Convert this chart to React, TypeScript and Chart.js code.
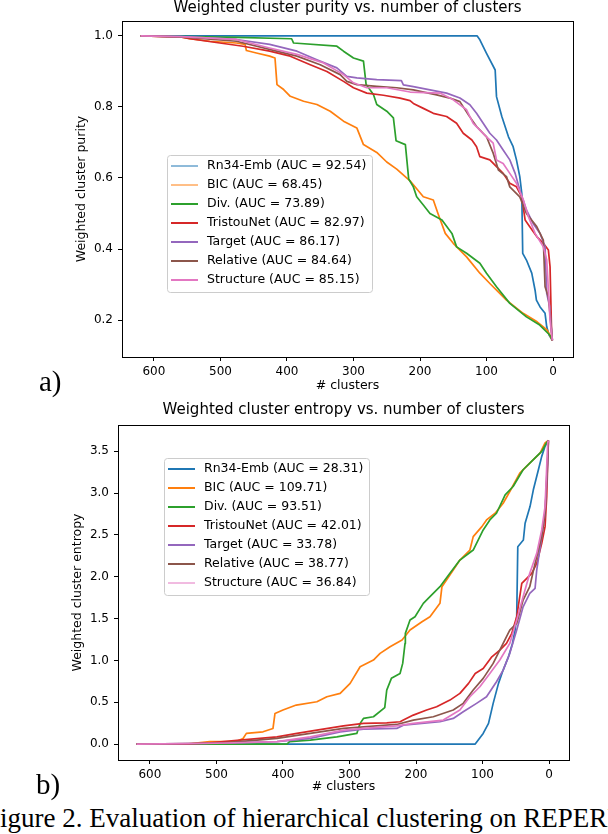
import React, { useEffect, useRef } from "react";
import { Chart, registerables } from "chart.js";

Chart.register(...registerables);

type Pt = [number, number];

// ---------- shared ----------
const seriesNames = ["Rn34-Emb", "BIC", "Div.", "TristouNet", "Target", "Relative", "Structure"];
const seriesColors = ["#1f77b4", "#ff7f0e", "#2ca02c", "#d62728", "#9467bd", "#8c564b", "#e377c2"];
const clusterTicks = [600, 500, 400, 300, 200, 100, 0];

// ---------- purity panel ----------
const purityAUC = ["92.54", "68.45", "73.89", "82.97", "86.17", "84.64", "85.15"];
const purityTicks = [0.2, 0.4, 0.6, 0.8, 1.0];

const purityRn34: Pt[] = [[620, 1], [114, 1], [110, 0.989], [100, 0.951], [87, 0.904], [85, 0.829], [77, 0.773], [67, 0.716], [60, 0.688], [55, 0.651], [50, 0.604], [47, 0.557], [45.6, 0.388], [40, 0.369], [32, 0.332], [27, 0.284], [25, 0.256], [19.5, 0.237], [12, 0.219], [9.5, 0.181], [6, 0.158], [1, 0.143]];
const purityBIC: Pt[] = [[620, 1], [560, 0.997], [546, 0.992], [516, 0.985], [476, 0.98], [463, 0.976], [461, 0.959], [446, 0.952], [426, 0.943], [418, 0.938], [415, 0.863], [405, 0.849], [395, 0.83], [375, 0.816], [355, 0.807], [335, 0.788], [315, 0.76], [295, 0.741], [285, 0.694], [265, 0.672], [250, 0.645], [235, 0.625], [215, 0.592], [195, 0.547], [180, 0.538], [173, 0.5], [162, 0.444], [150, 0.416], [130, 0.378], [110, 0.332], [95, 0.303], [70, 0.256], [45, 0.219], [24, 0.195], [9, 0.172], [1, 0.143]];
const purityDiv: Pt[] = [[620, 1], [476, 0.996], [393, 0.992], [390, 0.98], [325, 0.971], [315, 0.957], [300, 0.938], [285, 0.929], [281, 0.863], [270, 0.835], [265, 0.807], [250, 0.788], [240, 0.769], [236, 0.705], [222, 0.694], [217, 0.597], [210, 0.575], [205, 0.547], [195, 0.524], [185, 0.5], [167, 0.482], [152, 0.444], [145, 0.406], [130, 0.388], [110, 0.36], [100, 0.332], [85, 0.294], [65, 0.247], [40, 0.209], [20, 0.186], [5, 0.158], [1, 0.143]];
const purityTristou: Pt[] = [[620, 1], [560, 0.997], [546, 0.992], [501, 0.98], [466, 0.971], [426, 0.957], [395, 0.943], [365, 0.919], [340, 0.9], [315, 0.872], [300, 0.854], [280, 0.839], [255, 0.833], [230, 0.825], [215, 0.818], [210, 0.81], [195, 0.796], [180, 0.782], [160, 0.773], [145, 0.754], [135, 0.726], [122, 0.707], [115, 0.688], [110, 0.66], [95, 0.651], [85, 0.632], [75, 0.613], [65, 0.585], [55, 0.575], [47, 0.547], [42, 0.482], [35, 0.463], [24.5, 0.435], [14.6, 0.416], [7, 0.397], [4.5, 0.35], [2, 0.15], [1, 0.143]];
const purityTarget: Pt[] = [[620, 1], [560, 0.998], [476, 0.99], [426, 0.976], [385, 0.957], [355, 0.933], [325, 0.91], [310, 0.886], [295, 0.882], [265, 0.877], [228, 0.874], [225, 0.862], [210, 0.857], [185, 0.848], [160, 0.839], [140, 0.825], [125, 0.806], [115, 0.782], [105, 0.754], [95, 0.726], [85, 0.707], [75, 0.679], [65, 0.651], [57, 0.613], [50, 0.566], [40, 0.51], [30, 0.472], [19.5, 0.444], [12, 0.406], [9.5, 0.275], [5, 0.237], [1, 0.143]];
const purityRelative: Pt[] = [[620, 1], [560, 0.997], [476, 0.985], [426, 0.962], [385, 0.943], [350, 0.919], [320, 0.891], [310, 0.872], [295, 0.863], [265, 0.858], [235, 0.854], [210, 0.848], [175, 0.834], [155, 0.825], [140, 0.815], [127, 0.777], [115, 0.745], [100, 0.716], [90, 0.67], [82, 0.622], [70, 0.604], [65, 0.575], [50, 0.547], [40, 0.5], [24.5, 0.463], [14.6, 0.425], [12, 0.294], [7, 0.266], [1, 0.143]];
const purityStructure: Pt[] = [[620, 1], [560, 0.998], [476, 0.99], [426, 0.966], [385, 0.948], [345, 0.924], [315, 0.891], [300, 0.868], [280, 0.854], [250, 0.854], [215, 0.842], [170, 0.839], [150, 0.82], [130, 0.792], [120, 0.754], [110, 0.735], [100, 0.716], [90, 0.698], [85, 0.651], [75, 0.641], [65, 0.613], [55, 0.585], [44.6, 0.538], [37, 0.491], [27, 0.444], [14.6, 0.406], [9.5, 0.369], [4.5, 0.2], [1, 0.143]];

// ---------- entropy panel ----------
const entropyAUC = ["28.31", "109.71", "93.51", "42.01", "33.78", "38.77", "36.84"];
const entropyTicks = [0, 0.5, 1.0, 1.5, 2.0, 2.5, 3.0, 3.5];

const entropyRn34: Pt[] = [[620, 0], [111, 0], [99, 0.128], [91, 0.248], [84, 0.487], [76, 0.726], [69, 0.885], [61, 1.044], [55, 1.204], [51, 1.364], [48.6, 1.523], [47, 2.36], [38.6, 2.44], [36, 2.64], [28.6, 2.84], [23.6, 3.04], [16, 3.28], [11, 3.44], [6, 3.56], [1, 3.63]];
const entropyBIC: Pt[] = [[620, 0], [545, 0], [510, 0.03], [470, 0.03], [460, 0.068], [455, 0.128], [430, 0.147], [415, 0.187], [412, 0.367], [400, 0.407], [380, 0.467], [349, 0.506], [334, 0.566], [314, 0.606], [299, 0.726], [284, 0.925], [264, 1.005], [254, 1.085], [239, 1.164], [221, 1.244], [209, 1.364], [191, 1.463], [179, 1.523], [164, 1.683], [161, 1.882], [144, 2.081], [134, 2.2], [119, 2.32], [114, 2.48], [101, 2.6], [94, 2.68], [81, 2.76], [69, 2.88], [59, 3.02], [44, 3.24], [29, 3.36], [13.5, 3.48], [6, 3.6], [1, 3.63]];
const entropyDiv: Pt[] = [[620, 0], [394, 0], [390, 0.03], [359, 0.048], [319, 0.087], [289, 0.128], [284, 0.248], [279, 0.307], [264, 0.327], [247, 0.437], [244, 0.646], [237, 0.786], [224, 0.845], [220, 0.965], [216.5, 1.204], [216, 1.324], [209, 1.483], [201.5, 1.523], [189, 1.683], [179, 1.762], [164, 1.882], [149, 2.042], [134, 2.2], [114, 2.32], [99, 2.56], [89, 2.68], [79, 2.76], [66, 2.98], [54, 3.08], [39, 3.28], [23.6, 3.4], [11, 3.5], [4, 3.6], [1, 3.63]];
const entropyTristou: Pt[] = [[620, 0], [545, 0], [510, 0.016], [465, 0.048], [409, 0.087], [379, 0.128], [349, 0.167], [309, 0.219], [279, 0.248], [244, 0.255], [224, 0.267], [219, 0.287], [204, 0.347], [184, 0.407], [169, 0.447], [149, 0.526], [134, 0.606], [121, 0.726], [111, 0.845], [99, 0.905], [86, 1.044], [74, 1.124], [64, 1.204], [56, 1.324], [48.6, 1.523], [41, 1.922], [33.5, 1.982], [26, 2.042], [18.5, 2.16], [11, 2.4], [6, 2.6], [3.5, 2.96], [1, 3.63]];
const entropyTarget: Pt[] = [[620, 0], [500, 0.01], [409, 0.03], [359, 0.068], [314, 0.147], [279, 0.179], [229, 0.187], [219, 0.227], [164, 0.267], [144, 0.307], [129, 0.386], [109, 0.487], [94, 0.566], [79, 0.745], [69, 0.885], [59, 1.085], [48.6, 1.364], [39, 1.642], [29, 1.802], [21, 1.862], [18.5, 2.081], [11, 2.48], [6, 2.76], [2, 3.36], [1, 3.63]];
const entropyRelative: Pt[] = [[620, 0], [500, 0.01], [465, 0.03], [409, 0.068], [359, 0.128], [309, 0.187], [279, 0.207], [229, 0.235], [204, 0.287], [174, 0.327], [144, 0.407], [129, 0.487], [114, 0.646], [99, 0.786], [84, 0.965], [69, 1.204], [59, 1.364], [48.6, 1.444], [39, 1.722], [29, 1.882], [21, 2.16], [11, 2.48], [6, 2.76], [2, 3.44], [1, 3.63]];
const entropyStructure: Pt[] = [[620, 0], [500, 0.01], [409, 0.03], [359, 0.087], [309, 0.167], [279, 0.187], [229, 0.219], [204, 0.248], [159, 0.287], [134, 0.407], [119, 0.566], [104, 0.686], [89, 0.845], [74, 1.005], [59, 1.204], [48.6, 1.483], [39, 1.762], [29, 2.042], [18.5, 2.28], [11, 2.56], [6, 2.84], [2, 3.6], [1, 3.63]];

const puritySeries = [purityRn34, purityBIC, purityDiv, purityTristou, purityTarget, purityRelative, purityStructure];
const entropySeries = [entropyRn34, entropyBIC, entropyDiv, entropyTristou, entropyTarget, entropyRelative, entropyStructure];

const FONT = "'DejaVu Sans', sans-serif";

function framePlugin() {
  return {
    id: "frame",
    afterDatasetsDraw(chart: any) {
      const { ctx, chartArea: a } = chart;
      ctx.save();
      ctx.strokeStyle = "#000";
      ctx.lineWidth = 1;
      ctx.strokeRect(Math.round(a.left) + 0.5, Math.round(a.top) + 0.5, Math.round(a.right - a.left), Math.round(a.bottom - a.top));
      ctx.restore();
    },
  };
}

function titlePlugin(text: string, cy: number) {
  return {
    id: "panelTitle",
    afterDraw(chart: any) {
      const { ctx, chartArea: a } = chart;
      ctx.save();
      ctx.font = `15px ${FONT}`;
      ctx.fillStyle = "#000";
      ctx.textAlign = "center";
      ctx.textBaseline = "middle";
      ctx.fillText(text, (a.left + a.right) / 2, cy);
      ctx.restore();
    },
  };
}

function legendPlugin(x: number, y: number, thin: number[]) {
  return {
    id: "boxLegend",
    afterDraw(chart: any) {
      const { ctx } = chart;
      const ds = chart.data.datasets;
      const rowH = 19;
      ctx.save();
      ctx.font = `12.5px ${FONT}`;
      let maxW = 0;
      ds.forEach((d: any) => (maxW = Math.max(maxW, ctx.measureText(d.label).width)));
      const w = Math.round(40 + maxW + 6);
      const h = rowH * ds.length + 4;
      ctx.beginPath();
      (ctx as any).roundRect(x + 0.5, y + 0.5, w, h, 3);
      ctx.fillStyle = "rgba(255,255,255,0.8)";
      ctx.fill();
      ctx.strokeStyle = "#cccccc";
      ctx.lineWidth = 1;
      ctx.stroke();
      ds.forEach((d: any, i: number) => {
        const cy = y + 11 + i * rowH;
        ctx.beginPath();
        ctx.moveTo(x + 4, cy);
        ctx.lineTo(x + 31, cy);
        ctx.strokeStyle = d.borderColor;
        ctx.lineWidth = thin.includes(i) ? 1 : 2;
        ctx.stroke();
        ctx.fillStyle = "#000";
        ctx.textBaseline = "middle";
        ctx.textAlign = "left";
        ctx.fillText(d.label, x + 40, cy);
      });
      ctx.restore();
    },
  };
}

interface Panel {
  title: string;
  titleY: number;
  yTitle: string;
  series: Pt[][];
  auc: string[];
  yTicks: number[];
  yMin: number;
  yMax: number;
  pad: { left: number; right: number; top: number; bottom: number };
  xH: number;
  legend: { x: number; y: number; thin: number[] };
}

const purityPanel: Panel = {
  title: "Weighted cluster purity vs. number of clusters",
  titleY: 8,
  yTitle: "Weighted cluster purity",
  series: puritySeries,
  auc: purityAUC,
  yTicks: purityTicks,
  yMin: 0.096,
  yMax: 1.042,
  pad: { left: 74, right: 35, top: 21, bottom: 6.5 },
  xH: 36.5,
  legend: { x: 167, y: 155, thin: [0, 1] },
};

const entropyPanel: Panel = {
  title: "Weighted cluster entropy vs. number of clusters",
  titleY: 10,
  yTitle: "Weighted cluster entropy",
  series: entropySeries,
  auc: entropyAUC,
  yTicks: entropyTicks,
  yMin: -0.19,
  yMax: 3.815,
  pad: { left: 70, right: 39, top: 25, bottom: 6 },
  xH: 34,
  legend: { x: 164, y: 58, thin: [6] },
};

function makeConfig(p: Panel): any {
  const datasets = p.series.map((s, i) => ({
    label: `${seriesNames[i]} (AUC = ${p.auc[i]})`,
    data: s,
    borderColor: seriesColors[i],
    backgroundColor: seriesColors[i],
    borderWidth: 1.7,
    pointRadius: 0,
    tension: 0,
    fill: false,
    borderJoinStyle: "round",
    order: seriesNames.length - i,
  }));
  const tickFont = { family: FONT, size: 12 };
  return {
    type: "line",
    data: { datasets },
    options: {
      animation: false,
      responsive: false,
      maintainAspectRatio: false,
      layout: { padding: p.pad },
      plugins: {
        legend: { display: false },
        tooltip: { enabled: false },
        title: { display: false },
      },
      scales: {
        x: {
          type: "linear",
          reverse: true,
          min: -30,
          max: 648,
          afterBuildTicks: (s: any) => {
            s.ticks = clusterTicks.map((v) => ({ value: v }));
          },
          afterFit: (s: any) => {
            s.height = p.xH;
          },
          ticks: {
            color: "#000",
            font: tickFont,
            padding: 4,
            autoSkip: false,
            maxRotation: 0,
            callback: (v: any) => String(v),
          },
          grid: { drawOnChartArea: false, drawTicks: true, tickLength: 4, color: "#000", lineWidth: 1 },
          border: { display: false },
          title: { display: true, text: "# clusters", color: "#000", font: { family: FONT, size: 12.5 }, padding: { top: 0, bottom: 0 } },
        },
        y: {
          type: "linear",
          min: p.yMin,
          max: p.yMax,
          afterBuildTicks: (s: any) => {
            s.ticks = p.yTicks.map((v) => ({ value: v }));
          },
          afterFit: (s: any) => {
            s.width = 48;
          },
          ticks: {
            color: "#000",
            font: tickFont,
            padding: 5,
            autoSkip: false,
            callback: (v: any) => Number(v).toFixed(1),
          },
          grid: { drawOnChartArea: false, drawTicks: true, tickLength: 4, color: "#000", lineWidth: 1 },
          border: { display: false },
          title: { display: true, text: p.yTitle, color: "#000", font: { family: FONT, size: 12.5 }, padding: { top: 0, bottom: 0 } },
        },
      },
    },
    plugins: [framePlugin(), titlePlugin(p.title, p.titleY), legendPlugin(p.legend.x, p.legend.y, p.legend.thin)],
  };
}

function ChartPanel({ panel, top }: { panel: Panel; top: number }) {
  const ref = useRef<HTMLCanvasElement | null>(null);
  useEffect(() => {
    if (!ref.current) return;
    const chart = new Chart(ref.current, makeConfig(panel));
    return () => chart.destroy();
  }, [panel]);
  return (
    <canvas
      ref={ref}
      width={608}
      height={400}
      style={{ position: "absolute", left: 0, top, width: 608, height: 400 }}
    />
  );
}

const serif = "'Liberation Serif', 'DejaVu Serif', serif";

export default function App() {
  return (
    <div
      style={{
        position: "absolute",
        left: 0,
        top: 0,
        width: 608,
        height: 834,
        overflow: "hidden",
        background: "#fff",
      }}
    >
      <ChartPanel panel={purityPanel} top={0} />
      <ChartPanel panel={entropyPanel} top={400} />
      <div style={{ position: "absolute", left: 39, top: 367, fontFamily: serif, fontSize: 29, lineHeight: "29px" }}>a)</div>
      <div style={{ position: "absolute", left: 36, top: 770, fontFamily: serif, fontSize: 29, lineHeight: "29px" }}>b)</div>
      <div
        style={{
          position: "absolute",
          left: -15,
          top: 805,
          fontFamily: serif,
          fontSize: 27,
          lineHeight: "27px",
          whiteSpace: "nowrap",
        }}
      >
        Figure 2. Evaluation of hierarchical clustering on REPERE
      </div>
    </div>
  );
}
